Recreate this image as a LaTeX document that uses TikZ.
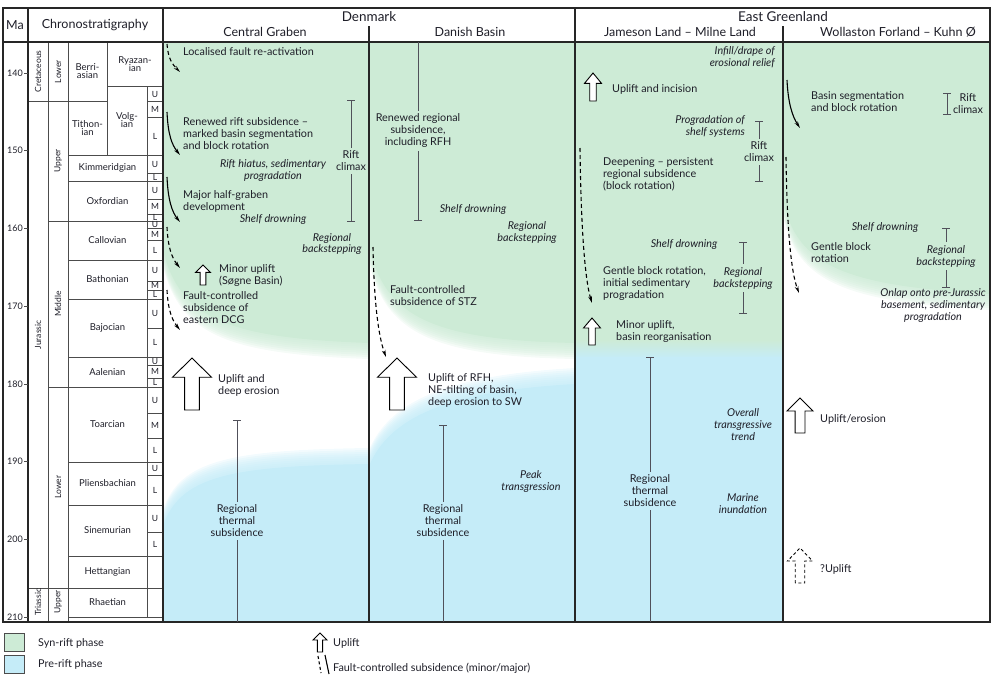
\documentclass[tikz,border=0pt]{standalone}
\usepackage{fontspec}
\setmainfont{Lato}
\usetikzlibrary{arrows.meta,positioning}

\definecolor{synrift}{RGB}{205,235,214}
\definecolor{prerift}{RGB}{197,236,248}
\definecolor{inkcol}{RGB}{30,30,40}
\definecolor{barcol}{RGB}{80,80,90}

\tikzset{
  txt/.style={font=\fontsize{10.8}{12}\selectfont, text=inkcol, inner sep=0pt, align=left, anchor=west},
  itx/.style={font=\fontsize{10.8}{12}\selectfont\itshape, text=inkcol, inner sep=0pt, align=center},
  ctx/.style={font=\fontsize{10.8}{12}\selectfont, text=inkcol, inner sep=3pt, align=center},
  hdr/.style={font=\fontsize{12.5}{14}\selectfont, text=inkcol, inner sep=0pt},
  stage/.style={font=\fontsize{9.5}{10}\selectfont, text=inkcol, inner sep=0pt, align=center},
  sub/.style={font=\fontsize{8.5}{9}\selectfont, text=inkcol, inner sep=0pt},
  rot/.style={font=\fontsize{8.5}{9}\selectfont, text=inkcol, inner sep=0pt, rotate=90},
  frame/.style={line width=1.2pt, draw=black!85},
  grid/.style={line width=0.5pt, draw=black!70},
  fault/.style={line width=1.1pt, -{Stealth[length=7pt,width=3.6pt]}},
  minor/.style={fault, dash pattern=on 4pt off 3pt},
  bar/.style={line width=0.6pt, draw=barcol},
  uplift/.pic={\draw[line width=0.9pt, fill=white] (-0.19,0) -- (-0.19,-0.63) -- (-0.5,-0.63)
    -- (0,-1) -- (0.5,-0.63) -- (0.19,-0.63) -- (0.19,0) -- cycle;}
}

% phase outlines
\newcommand\cgsyn{(163,42) -- (369,42) -- (369,343) .. controls (230,338) and (180,320) .. (163,250) -- cycle}
\newcommand\dbsyn{(369,42) -- (575,42) -- (575,343) .. controls (430,340) and (385,316) .. (369,246) -- cycle}
\newcommand\wfsyn{(783,42) -- (990,42) -- (990,294) .. controls (850,286) and (795,268) .. (783,198) -- cycle}
\newcommand\cgpre{(163,622) -- (163,526) .. controls (180,476) and (230,466) .. (369,464) -- (369,622) -- cycle}
\newcommand\dbpre{(369,622) -- (369,466) .. controls (390,416) and (450,391) .. (575,384) -- (575,622) -- cycle}

\begin{document}
\begin{tikzpicture}[x=1pt,y=-1pt]
\useasboundingbox (0,0) rectangle (995,675);

% phases, soft edges
\fill[synrift] \cgsyn;
\fill[synrift] \dbsyn;
\fill[synrift] \wfsyn;
\fill[prerift] \cgpre;
\fill[prerift] \dbpre;
\foreach \d in {2,4,...,16} {
  \fill[synrift, opacity=0.2, yshift=-\d pt] \cgsyn;
  \fill[synrift, opacity=0.2, yshift=-\d pt] \dbsyn;
  \fill[synrift, opacity=0.2, yshift=-\d pt] \wfsyn;
  \fill[prerift, opacity=0.2, yshift=\d pt] \cgpre;
  \fill[prerift, opacity=0.2, yshift=\d pt] \dbpre;
}
\fill[synrift] (575,42) rectangle (783,342);
\shade[top color=synrift, middle color=white, bottom color=prerift] (575,340) rectangle (783,358);
\fill[prerift] (575,357) rectangle (783,622);

% chronostratigraphy grid
\draw[grid] (48,42) -- (48,622) (68,42) -- (68,622) (107,42) -- (107,155) (147,86) -- (147,617);
\draw[grid] (107,86) -- (163,86) (28,101) -- (107,101) (28,588) -- (163,588);
\foreach \y in {155,181,260,299,357,462,505,556,617}
  \draw[grid] (68,\y) -- (163,\y);
\foreach \y in {221,387}
  \draw[grid] (48,\y) -- (163,\y);
\foreach \y in {101,117,173,199,214,228,240,281,290,328,365,378,413,438,475,532}
  \draw[grid] (147,\y) -- (163,\y);

% frame
\draw[frame] (3,8) rectangle (990,622);
\draw[frame] (3,42) -- (990,42);
\draw[frame] (28,8) -- (28,622) (163,8) -- (163,622) (575,8) -- (575,622);
\draw[frame] (369,26) -- (369,622) (783,26) -- (783,622);

% headers
\node[hdr] (ma) at (15,25) {Ma};
\node[hdr] (chrono) at (95,25) {Chronostratigraphy};
\node[hdr, font=\fontsize{13.5}{15}\selectfont] (denmark) at (369,17) {Denmark};
\node[hdr, font=\fontsize{13.5}{15}\selectfont] (egreen) at (783,17) {East Greenland};
\node[hdr] (cgh) at (265,32) {Central Graben};
\node[hdr] (dbh) at (470,32) {Danish Basin};
\node[hdr] (jlh) at (680,32) {Jameson Land -- Milne Land};
\node[hdr] (wfh) at (898,32) {Wollaston Forland -- Kuhn Ø};

% Ma scale
\foreach \m in {140,150,...,210} {
  \draw[grid] (24,{73+7.77*(\m-140)}) -- (28,{73+7.77*(\m-140)});
  \node[sub, font=\fontsize{9}{9}\selectfont, anchor=east] (ma\m) at (23,{73+7.77*(\m-140)}) {\m};
}

% periods and epochs
\node[rot] (cret) at (38,71.5) {Cretaceous};
\node[rot] (jur) at (38,335) {Jurassic};
\node[rot] (tri) at (38,602) {Triassic};
\node[rot] (elow) at (58,71.5) {Lower};
\node[rot] (eup) at (58,161) {Upper};
\node[rot] (emid) at (58,304) {Middle};
\node[rot] (elow2) at (58,487) {Lower};
\node[rot] (eup2) at (58,602) {Upper};

% stages
\node[stage] (berr) at (87.5,71.5) {Berri-\\[-2pt]asian};
\node[stage] (ryaz) at (135,64) {Ryazan-\\[-2pt]ian};
\node[stage] (tith) at (87.5,128) {Tithon-\\[-2pt]ian};
\node[stage] (volg) at (127,120) {Volg-\\[-2pt]ian};
\foreach \n/\y in {Kimmeridgian/168,Oxfordian/201,Callovian/240.5,Bathonian/279.5,Bajocian/328,
  Aalenian/372,Toarcian/424.5,Pliensbachian/483.5,Sinemurian/530.5,Hettangian/572,Rhaetian/602.5}
  \node[stage] (st\n) at (107.5,\y) {\n};
\foreach \s/\y [count=\i] in {U/94,M/109.5,L/136,U/164,L/177,U/190,M/206.5,L/217.5,U/224.5,M/234,L/250,
  U/270.5,M/285.5,L/294.5,U/313.5,L/342.5,U/361.5,M/371.5,L/382.5,U/400,M/425.5,L/450,
  U/468.5,L/490,U/518.5,L/544}
  \node[sub] (sub\i) at (155,\y) {\s};

% Central Graben
\draw[minor] (167,44) .. controls (168,58) and (172,64) .. (180,72);
\node[txt] (cg1) at (183,52) {Localised fault re-activation};
\draw[fault] (167,112) .. controls (168,135) and (172,145) .. (180,155);
\node[txt] (cg2) at (183,134) {Renewed rift subsidence --\\marked basin segmentation\\and block rotation};
\node[itx] (cg3) at (273,171) {Rift hiatus, sedimentary\\progradation};
\node[ctx] (cgrc) at (351,161) {Rift\\climax};
\draw[bar, {Bar[width=8pt]}-] (351,100) -- (cgrc.north);
\draw[bar, -{Bar[width=8pt]}] (cgrc.south) -- (351,222);
\draw[fault] (167,177) .. controls (168,200) and (172,212) .. (180,222);
\node[txt] (cg4) at (183,201) {Major half-graben\\development};
\node[itx] (cg5) at (273,220) {Shelf drowning};
\node[itx] (cg6) at (332,244) {Regional\\backstepping};
\draw[minor] (167,227) .. controls (168,248) and (172,258) .. (180,268);
\pic[xscale=15,yscale=20] at (203,285) {uplift};
\node[txt] (cg7) at (219,276) {Minor uplift\\(Søgne Basin)};
\draw[minor] (167,290) .. controls (168,310) and (172,320) .. (180,330);
\node[txt] (cg8) at (183,308) {Fault-controlled\\subsidence of\\eastern DCG};
\pic[xscale=39,yscale=52] at (192,410) {uplift};
\node[txt] (cg9) at (218,385) {Uplift and\\deep erosion};
\node[ctx] (cgrts) at (237,521) {Regional\\thermal\\subsidence};
\draw[bar, {Bar[width=8pt]}-] (237,420) -- (cgrts.north);
\draw[bar] (cgrts.south) -- (237,622);

% Danish Basin
\node[ctx] (db1) at (418,131) {Renewed regional\\subsidence,\\including RFH};
\draw[bar] (418,42) -- (db1.north);
\draw[bar, -{Bar[width=8pt]}] (db1.south) -- (418,221);
\node[itx] (db2) at (473,210) {Shelf drowning};
\node[itx] (db3) at (527,233) {Regional\\backstepping};
\draw[minor] (373,247) .. controls (374,300) and (378,335) .. (386,357);
\node[txt] (db4) at (390,296) {Fault-controlled\\subsidence of STZ};
\pic[xscale=39,yscale=52] at (397,410) {uplift};
\node[txt] (db5) at (428,390) {Uplift of RFH,\\NE-tilting of basin,\\deep erosion to SW};
\node[ctx] (dbrts) at (443,521) {Regional\\thermal\\subsidence};
\draw[bar, {Bar[width=8pt]}-] (443,425) -- (dbrts.north);
\draw[bar] (dbrts.south) -- (443,622);
\node[itx] (db6) at (531,481) {Peak\\transgression};

% Jameson Land - Milne Land
\node[itx, align=right, anchor=east] (jl1) at (775,57) {Infill/drape of\\erosional relief};
\pic[xscale=17,yscale=28] at (593,101) {uplift};
\node[txt] (jl2) at (612,89) {Uplift and incision};
\node[itx, align=right, anchor=east] (jl3) at (745,126) {Progradation of\\shelf systems};
\node[ctx] (jlrc) at (759,152) {Rift\\climax};
\draw[bar, {Bar[width=8pt]}-] (759,121) -- (jlrc.north);
\draw[bar, -{Bar[width=8pt]}] (jlrc.south) -- (759,182);
\draw[minor] (580,148) .. controls (581,230) and (585,280) .. (592,303);
\node[txt] (jl4) at (603,174) {Deepening -- persistent\\regional subsidence\\(block rotation)};
\node[itx] (jl5) at (684,244) {Shelf drowning};
\node[itx, inner sep=3pt] (jlrb) at (743,278) {Regional\\backstepping};
\draw[bar, {Bar[width=8pt]}-] (743,242) -- (jlrb.north);
\draw[bar, -{Bar[width=8pt]}] (jlrb.south) -- (743,314);
\node[txt] (jl6) at (603,284) {Gentle block rotation,\\initial sedimentary\\progradation};
\pic[xscale=17,yscale=27] at (592,345) {uplift};
\node[txt] (jl7) at (616,332) {Minor uplift,\\basin reorganisation};
\node[ctx] (jlrts) at (650,491) {Regional\\thermal\\subsidence};
\draw[bar, {Bar[width=8pt]}-] (650,357) -- (jlrts.north);
\draw[bar] (jlrts.south) -- (650,622);
\node[itx] (jl8) at (743,425) {Overall\\transgressive\\trend};
\node[itx] (jl9) at (743,504) {Marine\\inundation};

% Wollaston Forland - Kuhn O
\draw[fault] (787,80) .. controls (788,102) and (792,116) .. (800,128);
\node[txt] (wf1) at (811,102) {Basin segmentation\\and block rotation};
\coordinate (wfrc1) at (947,93);
\coordinate (wfrc2) at (947,115);
\draw[bar, {Bar[width=8pt]}-{Bar[width=8pt]}] (wfrc1) -- (wfrc2);
\node[ctx, inner sep=0pt] (wfrc) at (968,104) {Rift\\climax};
\draw[minor] (786,157) .. controls (787,230) and (791,272) .. (799,293);
\node[itx] (wf2) at (885,228) {Shelf drowning};
\node[itx, inner sep=3pt] (wfrb) at (946,256) {Regional\\backstepping};
\draw[bar, {Bar[width=8pt]}-] (946,228) -- (wfrb.north);
\draw[bar, -{Bar[width=8pt]}] (wfrb.south) -- (946,288);
\node[txt] (wf3) at (811,253) {Gentle block\\rotation};
\node[itx] (wf4) at (933,305) {Onlap onto pre-Jurassic\\basement, sedimentary\\progradation};
\pic[xscale=26,yscale=35] at (800,433) {uplift};
\node[txt] (wf5) at (820,419) {Uplift/erosion};
\pic[xscale=25,yscale=35,dash pattern=on 3pt off 2.5pt] at (800,583) {uplift};
\node[txt] (wf6) at (820,569) {?Uplift};

% legend
\draw[grid, fill=synrift] (4,633) rectangle (24,651);
\node[txt] (lsyn) at (38,643) {Syn-rift phase};
\draw[grid, fill=prerift] (4,655) rectangle (24,673);
\node[txt] (lpre) at (38,664) {Pre-rift phase};
\pic[xscale=14,yscale=19] at (320,652) {uplift};
\node[txt] (lupl) at (333,643) {Uplift};
\draw[line width=1.1pt, dash pattern=on 3pt off 2.5pt] (318,656) -- (321,673);
\draw[line width=1.1pt] (325,655) -- (329,674);
\node[txt] (lflt) at (333,668) {Fault-controlled subsidence (minor/major)};
\end{tikzpicture}
\end{document}
